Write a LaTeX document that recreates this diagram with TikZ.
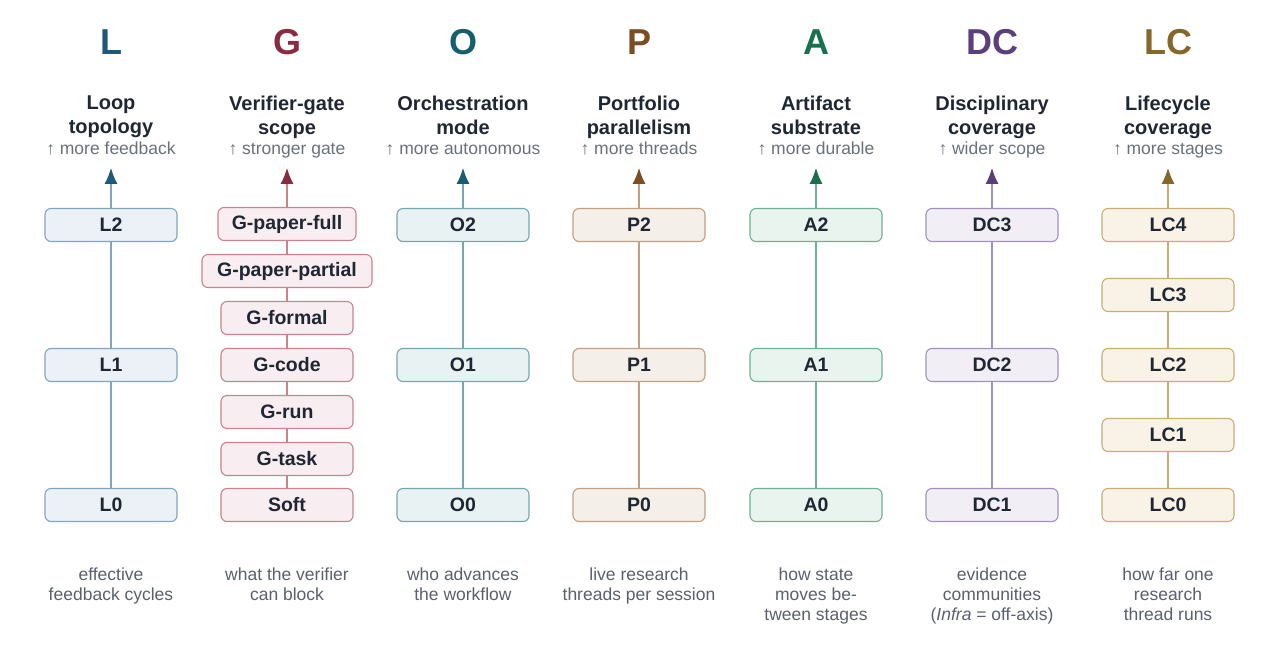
\documentclass[tikz,border=0pt]{standalone}
\usepackage{fontspec}
\setmainfont{Liberation Sans}
\usetikzlibrary{arrows.meta}
\definecolor{ink}{HTML}{1F2733}
\definecolor{subg}{HTML}{6B717C}
\definecolor{capg}{HTML}{5A616D}
\definecolor{Ld}{HTML}{1E5A78}\definecolor{Lb}{HTML}{7FA6C0}\definecolor{Lf}{HTML}{EBF1F7}
\definecolor{Gd}{HTML}{8A2B43}\definecolor{Gb}{HTML}{C9838F}\definecolor{Gf}{HTML}{F8EDF0}
\definecolor{Od}{HTML}{145E6E}\definecolor{Ob}{HTML}{74A8B1}\definecolor{Of}{HTML}{E8F2F3}
\definecolor{Pd}{HTML}{7A4E22}\definecolor{Pb}{HTML}{C29F7F}\definecolor{Pf}{HTML}{F5EFE9}
\definecolor{Ad}{HTML}{19704F}\definecolor{Ab}{HTML}{6DB393}\definecolor{Af}{HTML}{E9F4EF}
\definecolor{DCd}{HTML}{5B3F7D}\definecolor{DCb}{HTML}{A291BF}\definecolor{DCf}{HTML}{F1EEF6}
\definecolor{LCd}{HTML}{85672A}\definecolor{LCb}{HTML}{C9AD72}\definecolor{LCf}{HTML}{F8F3E6}
\tikzset{
  lvl/.style={draw=#1b, fill=#1f, rounded corners=6pt, minimum width=132pt, minimum height=33pt,
    line width=1.1pt, inner sep=0pt, text=ink, font=\bfseries\fontsize{19.5}{22}\selectfont},
  conn/.style={draw=#1b, line width=1.1pt},
  uparrow/.style={draw=#1b, line width=1.1pt, -{Latex[length=16pt,width=13pt,color=#1d]}},
  bigletter/.style={text=#1d, font=\bfseries\fontsize{36}{40}\selectfont, inner sep=0pt},
  ttl/.style={text=ink, align=center, anchor=north, inner sep=0pt, font=\bfseries\fontsize{20}{24}\selectfont},
  subttl/.style={text=subg, inner sep=0pt, anchor=base, font=\fontsize{17.5}{20}\selectfont},
  capt/.style={text=capg, align=center, anchor=north, inner sep=0pt, font=\fontsize{17.5}{20}\selectfont}
}
\begin{document}
\begin{tikzpicture}[x=1pt,y=-1pt]
\useasboundingbox[fill=white] (0,0) rectangle (1280,655);
% ---- headers
\node[bigletter=L]  (hL)  at (111,42) {L};
\node[bigletter=G]  (hG)  at (287,42) {G};
\node[bigletter=O]  (hO)  at (463,42) {O};
\node[bigletter=P]  (hP)  at (639,42) {P};
\node[bigletter=A]  (hA)  at (816,42) {A};
\node[bigletter=DC] (hDC) at (992,42) {DC};
\node[bigletter=LC] (hLC) at (1168,42) {LC};
\foreach \x/\t in {111/{Loop\\topology},287/{Verifier-gate\\scope},463/{Orchestration\\mode},639/{Portfolio\\parallelism},816/{Artifact\\substrate},992/{Disciplinary\\coverage},1168/{Lifecycle\\coverage}}
  \node[ttl] (t\x) at (\x,96) {\t};
\node[subttl] (sL)  at (111,155) {↑ more feedback};
\node[subttl] (sG)  at (287,155) {↑ stronger gate};
\node[subttl] (sO)  at (463,155) {↑ more autonomous};
\node[subttl] (sP)  at (639,155) {↑ more threads};
\node[subttl] (sA)  at (816,155) {↑ more durable};
\node[subttl] (sDC) at (992,155) {↑ wider scope};
\node[subttl] (sLC) at (1168,155) {↑ more stages};
% ---- tips
\coordinate (tipL) at (111,168);
\coordinate (tipG) at (287,168);
\coordinate (tipO) at (463,168);
\coordinate (tipP) at (639,168);
\coordinate (tipA) at (816,168);
\coordinate (tipDC) at (992,168);
\coordinate (tipLC) at (1168,168);
% ---- L
\node[lvl=L] (L2) at (111,225) {L2};
\node[lvl=L] (L1) at (111,365) {L1};
\node[lvl=L] (L0) at (111,505) {L0};
% ---- G
\node[lvl=G, minimum width=138pt] (G6) at (287,224) {G-paper-full};
\node[lvl=G, minimum width=170pt] (G5) at (287,271) {G-paper-partial};
\node[lvl=G] (G4) at (287,318) {G-formal};
\node[lvl=G] (G3) at (287,365) {G-code};
\node[lvl=G] (G2) at (287,412) {G-run};
\node[lvl=G] (G1) at (287,459) {G-task};
\node[lvl=G] (G0) at (287,505) {Soft};
% ---- O
\node[lvl=O] (O2) at (463,225) {O2};
\node[lvl=O] (O1) at (463,365) {O1};
\node[lvl=O] (O0) at (463,505) {O0};
% ---- P
\node[lvl=P] (P2) at (639,225) {P2};
\node[lvl=P] (P1) at (639,365) {P1};
\node[lvl=P] (P0) at (639,505) {P0};
% ---- A
\node[lvl=A] (A2) at (816,225) {A2};
\node[lvl=A] (A1) at (816,365) {A1};
\node[lvl=A] (A0) at (816,505) {A0};
% ---- DC
\node[lvl=DC] (DC3) at (992,225) {DC3};
\node[lvl=DC] (DC2) at (992,365) {DC2};
\node[lvl=DC] (DC1) at (992,505) {DC1};
% ---- LC
\node[lvl=LC] (LC4) at (1168,225) {LC4};
\node[lvl=LC] (LC3) at (1168,295) {LC3};
\node[lvl=LC] (LC2) at (1168,365) {LC2};
\node[lvl=LC] (LC1) at (1168,435) {LC1};
\node[lvl=LC] (LC0) at (1168,505) {LC0};
% ---- connectors
\draw[conn=L] (L0) -- (L1) (L1) -- (L2);
\draw[conn=G] (G0) -- (G1) (G1) -- (G2) (G2) -- (G3) (G3) -- (G4) (G4) -- (G5) (G5) -- (G6);
\draw[conn=O] (O0) -- (O1) (O1) -- (O2);
\draw[conn=P] (P0) -- (P1) (P1) -- (P2);
\draw[conn=A] (A0) -- (A1) (A1) -- (A2);
\draw[conn=DC] (DC1) -- (DC2) (DC2) -- (DC3);
\draw[conn=LC] (LC0) -- (LC1) (LC1) -- (LC2) (LC2) -- (LC3) (LC3) -- (LC4);
\draw[uparrow=L] (L2) -- (tipL);
\draw[uparrow=G] (G6) -- (tipG);
\draw[uparrow=O] (O2) -- (tipO);
\draw[uparrow=P] (P2) -- (tipP);
\draw[uparrow=A] (A2) -- (tipA);
\draw[uparrow=DC] (DC3) -- (tipDC);
\draw[uparrow=LC] (LC4) -- (tipLC);
% ---- captions
\node[capt] (cL)  at (111,568) {effective\\feedback cycles};
\node[capt] (cG)  at (287,568) {what the verifier\\can block};
\node[capt] (cO)  at (463,568) {who advances\\the workflow};
\node[capt] (cP)  at (639,568) {live research\\threads per session};
\node[capt] (cA)  at (816,568) {how state\\moves be-\\tween stages};
\node[capt] (cDC) at (992,568) {evidence\\communities\\(\textit{Infra} = off-axis)};
\node[capt] (cLC) at (1168,568) {how far one\\research\\thread runs};
\end{tikzpicture}
\end{document}
